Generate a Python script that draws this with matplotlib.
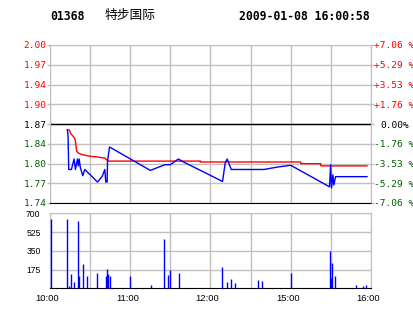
import matplotlib
matplotlib.use("Agg")
import matplotlib.pyplot as plt
from matplotlib.transforms import ScaledTranslation

code = "01368"
name = "特步国际"
stamp = "2009-01-08 16:00:58"
prev_close = 1.87

# time in trading minutes after 10:00 (lunch break removed)
price_t = [13, 13.5, 14, 16, 18, 19, 20.5, 21.2, 21.8, 22.7, 24.5, 26, 35.5, 39, 41,
           41.7, 42.7, 43, 44.5, 75, 86, 90, 96, 99, 129, 131, 132.5, 135.5, 160,
           170, 180, 209, 209.8, 210.5, 211.5, 212.2, 213.5, 237]
price = [1.860, 1.850, 1.794, 1.794, 1.8115, 1.794, 1.8115, 1.800, 1.8115, 1.797, 1.7836,
         1.794, 1.773, 1.7824, 1.794, 1.773, 1.773, 1.8075, 1.8316, 1.7925, 1.802, 1.802,
         1.8115, 1.8075, 1.774, 1.805, 1.8115, 1.794, 1.794, 1.798, 1.801, 1.765, 1.802,
         1.763, 1.785, 1.768, 1.782, 1.782]

avg_t = [13, 14.5, 15.5, 17.5, 18.75, 20, 21.25, 23.75, 30, 35, 41, 42.5, 43.75,
         112.5, 112.5, 187.5, 187.5, 202.5, 202.5, 237]
avg = [1.860, 1.860, 1.854, 1.849, 1.845, 1.824, 1.8215, 1.819, 1.816, 1.815, 1.813,
       1.810, 1.808, 1.808, 1.8065, 1.8065, 1.8037, 1.8037, 1.800, 1.800]

vol_t = [0.4, 13, 14.5, 16, 18, 20.75, 21.5, 25, 27.5, 35.5, 41.5, 42.25, 43, 44.5,
         59.5, 75.5, 85, 88, 89.5, 96.25, 128.5, 132.25, 135.25, 138.25, 155.5, 158.5,
         180.25, 209.5, 210.25, 211, 213.25, 229, 234.25, 236.5]
vol = [647, 647, 22, 134, 59, 628, 115, 227, 115, 143, 115, 180, 134, 115,
       115, 31, 460, 124, 171, 143, 199, 59, 87, 50, 78, 68,
       143, 348, 96, 236, 115, 31, 22, 31]

price_labels = ["1.74", "1.77", "1.80", "1.84", "1.87", "1.90", "1.94", "1.97", "2.00"]
pct_labels = ["-7.06 %", "-5.29 %", "-3.53 %", "-1.76 %", "0.00%",
              "+1.76 %", "+3.53 %", "+5.29 %", "+7.06 %"]
vol_ticks = [175, 350, 525, 700]
time_ticks = [0, 30, 60, 90, 120, 150, 180, 210, 240]
time_labels = ["10:00", "", "11:00", "", "12:00", "", "15:00", "", "16:00"]

grey = "#c0c0c0"
green = "#006000"
step = prev_close * 0.01765
yticks = [prev_close + k * step for k in range(-4, 5)]

fig = plt.figure(figsize=(4.14, 3.14), dpi=100)
W, H = 414, 314
ax = fig.add_axes([50 / W, 1 - 203 / H, 321 / W, 158 / H])
axv = fig.add_axes([50 / W, 1 - 288.3 / H, 321 / W, 75 / H])

# header
fig.text(50 / W, 1 - 16 / H, code, family="DejaVu Sans Mono", weight="bold",
         fontsize=8.3, va="center")
fig.text(105 / W, 1 - 16 / H, name, family=["Noto Sans CJK SC", "DejaVu Sans"],
         fontsize=9.2, va="center")
fig.text(370 / W, 1 - 16 / H, stamp, family="DejaVu Sans Mono", weight="bold",
         fontsize=8.3, va="center", ha="right")

# price panel
ax.set_xlim(0, 240)
ax.set_ylim(yticks[0], yticks[-1])
ax.set_xticks(time_ticks)
ax.set_yticks(yticks)
ax.grid(True, color=grey, lw=1)
ax.axhline(prev_close, color="black", lw=1, zorder=2)
ax.plot(avg_t, avg, color="#ff0000", lw=1, zorder=3)
ax.plot(price_t, price, color="#0000ff", lw=1, zorder=4)
for s in ["left", "right", "top"]:
    ax.spines[s].set_color(grey)
ax.spines["bottom"].set_color("black")
ax.tick_params(axis="x", length=0, labelbottom=False)
ax.tick_params(axis="y", length=2, width=1, color=grey, pad=0.6)
ax.set_yticklabels(price_labels, family="DejaVu Sans Mono", fontsize=6.8)
cols = [green] * 4 + ["black"] + ["#ff0000"] * 4
for lab, c in zip(ax.get_yticklabels(), cols):
    lab.set_color(c)

axr = ax.twinx()
axr.set_ylim(ax.get_ylim())
axr.set_yticks(yticks)
axr.set_yticklabels(pct_labels, family="DejaVu Sans Mono", fontsize=6.8, ha="center")
axr.tick_params(axis="y", length=2, width=1, color=grey, pad=15)
for s in axr.spines.values():
    s.set_visible(False)
for lab, c in zip(axr.get_yticklabels(), cols):
    lab.set_color(c)

# volume panel
axv.set_xlim(0, 240)
axv.set_ylim(0, 700)
axv.vlines(vol_t, 0, vol, color="#0000ff", lw=1, zorder=3, clip_on=False)
axv.set_yticks(vol_ticks)
axv.set_xticks(time_ticks)
axv.set_xticklabels(time_labels, family="Liberation Sans", fontsize=6.8)
axv.set_yticklabels([str(v) for v in vol_ticks], family="Liberation Sans", fontsize=6.2)
axv.grid(True, color=grey, lw=1)
for s in ["left", "right", "top"]:
    axv.spines[s].set_color(grey)
axv.spines["bottom"].set_color("black")
axv.tick_params(axis="y", length=0, pad=6.8)
axv.tick_params(axis="x", length=0, pad=4)
off = ScaledTranslation(-3 / 100, 0, fig.dpi_scale_trans)
for lab in axv.get_xticklabels():
    lab.set_transform(lab.get_transform() + off)

fig.savefig("out.png", dpi=100)
